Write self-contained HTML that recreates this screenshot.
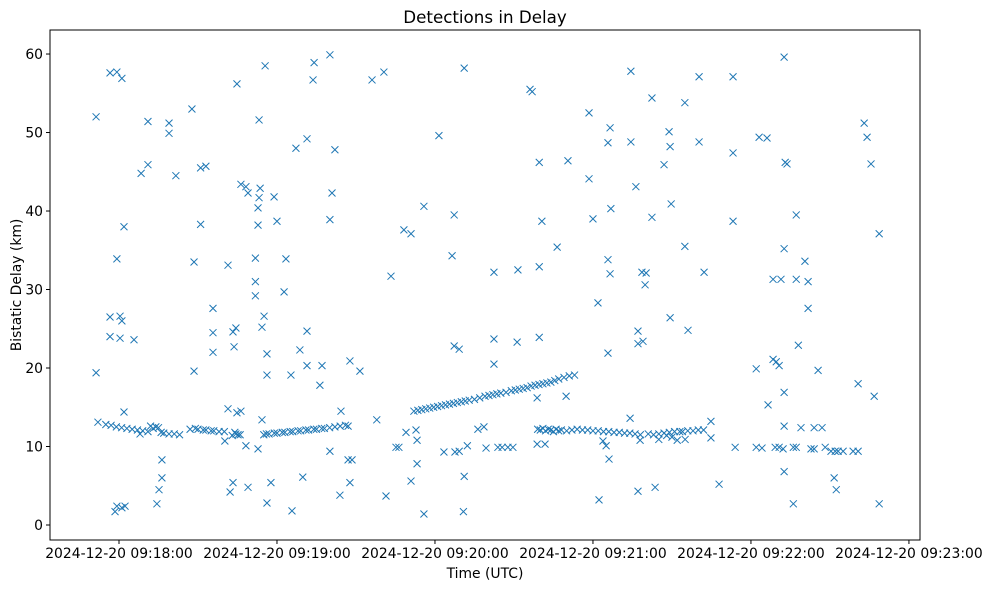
<!DOCTYPE html>
<html><head><meta charset="utf-8"><style>
html,body{margin:0;padding:0;background:#fff;}
svg{display:block;font-family:"DejaVu Sans","Liberation Sans",sans-serif;}
</style></head><body>
<svg id="chart" width="988" height="590" viewBox="0 0 988 590" xmlns="http://www.w3.org/2000/svg">
<text x="485" y="23" text-anchor="middle" font-size="16.7" fill="#000">Detections in Delay</text>
<rect x="50" y="30" width="870" height="510" fill="none" stroke="#000" stroke-width="1"/>
<g id="marks"></g>
<g id="axes"></g>
<text x="485" y="578" text-anchor="middle" font-size="13.9" fill="#000">Time (UTC)</text>
<text transform="translate(21,285) rotate(-90)" text-anchor="middle" font-size="13.9" fill="#000">Bistatic Delay (km)</text>
</svg>
<script>
// times: seconds relative to 2024-12-20 09:18:00 ; delays: km
const times = [-8.7,-8.7,-8,-3.4,-0.8,1.1,-0.8,-3.4,-3.4,0.4,1.1,0.4,1.9,5.7,1.9,-1.5,-0.8,1.1,2.3,11,8.4,11,19,19,21.6,27.7,28.5,31,33,31,28.5,35.7,35.7,35.7,41.4,44.8,46.3,48.2,49,44.4,43.3,43.7,46.3,41.4,44.8,53.6,53.2,52.8,52.8,53.2,55.5,51.8,51.8,51.8,55.1,54.3,56.2,56.2,54.3,52.8,56.2,57.7,49,43.3,42.2,48.2,40.2,44.4,45.2,16.3,16.3,15.2,14.4,58.9,60,63.4,62.7,67.2,71.4,74.1,73.7,80.1,82,80.9,80.1,68.7,71.4,71.4,65.3,77.1,76.3,69.8,65.7,80.1,84.3,83.9,87.7,87,88.5,87.7,91.5,96.1,100.6,103.3,97.9,101.4,105.2,106.3,108.2,110.9,109,110.9,113.2,112.8,113.2,115.8,115.8,121.5,123.4,126.5,127.3,127.3,129.2,127.6,129.2,131.1,131.1,130.8,132.3,136.3,138.6,142.4,142.4,142.4,139.4,143.9,145.5,147.7,149.6,151.2,151.5,156.1,156.9,159.6,160.6,159.6,159.6,158.8,158.8,161.8,166.4,170.5,169.8,178.5,178.5,180,181.9,182.3,183.8,185,185.7,186.1,185.7,186.5,185.7,186.5,186.8,194.4,194.4,194.1,196.3,197.1,197.1,198.6,200.2,199.8,199,197.9,197.1,202.4,202.4,203.6,207,208.9,209.3,209.7,209.3,214.9,214.9,216.1,220.3,220.3,222.2,224.8,224.8,227.9,233.2,233.2,233.2,234,242,242,243.1,246.1,244.2,246.5,248.4,251.4,248.4,249.6,250.7,249.2,250.7,252.6,253,253.7,252.6,252.6,252.6,252.6,252.2,256.1,257.2,257.2,258,259,257.2,256.1,260.5,261.7,261.7,264,267,265.5,262.8,264,268.2,270.4,272,273.1,275,278.8,280.7,271.6,272.4,280.7,283,284.1,285.6,286.8,288.7,288.7,
-5,-3,-1,1,3,5,7,9,11,13,14,15,16,17,19,21,23,8,12,
27,29,30,32,33,35,36,38,40,46,44,43,
55,56,57,59,60,62,63,65,66,68,69,71,72,74,75,77,78,80,82,84,86,87,
112,113.5,115,116.5,118,119.5,121,122.5,124,125.5,127,128.5,130,131.5,133,135,137,139,140.5,142,143.5,145,147,149,150.5,152,153.5,155,156.5,158,159.5,161,162.5,164,165.5,167,169,171,173,
159,160,161,162,163,164,165,166,167,168,170,172,174,176,178,180,182,184,186,188,190,192,194,196,198,
201,203,205,207,208,209,210,211,212,213,214,215,216,218,220,222,205];
const delays = [52.0,19.4,13.1,57.6,57.7,56.9,33.9,26.5,24.0,26.6,26.0,23.8,38.0,23.6,14.4,1.7,2.4,2.2,2.4,51.4,44.8,45.9,51.2,49.9,44.5,53.0,33.5,45.5,45.7,38.3,19.6,27.6,24.5,22.0,33.1,56.2,43.4,43.1,42.3,25.1,24.6,22.7,14.5,14.8,14.3,42.9,41.7,40.4,38.2,51.6,58.5,34.0,31.0,29.2,26.6,25.2,21.8,19.1,13.4,9.7,2.8,5.4,4.8,5.4,4.2,10.1,10.7,11.6,11.5,8.3,6.0,4.5,2.7,41.8,38.7,33.9,29.7,48.0,49.2,58.9,56.7,59.9,47.8,42.3,38.9,22.3,24.7,20.3,19.1,20.3,17.8,6.1,1.8,9.4,14.5,3.8,5.4,8.3,8.3,20.9,19.6,56.7,57.7,31.7,13.4,3.7,9.9,9.9,37.6,37.1,11.8,5.6,7.8,12.1,10.8,40.6,1.4,49.6,9.3,34.3,39.5,22.8,22.4,9.3,9.4,58.2,6.2,1.7,10.1,12.2,12.5,32.2,23.7,20.5,9.8,9.9,9.9,9.9,9.9,23.3,32.5,55.5,55.2,46.2,38.7,32.9,23.9,16.2,10.3,10.3,35.4,46.4,16.4,52.5,44.1,39.0,28.3,3.2,10.7,10.1,21.9,8.4,48.7,50.6,33.8,32.0,40.3,57.8,48.8,13.6,43.1,24.7,23.1,32.2,32.1,30.6,23.4,10.8,4.3,54.4,39.2,4.8,45.9,50.1,48.2,40.9,26.4,53.8,35.5,24.8,57.1,48.8,32.2,13.2,11.1,5.2,57.1,47.4,38.7,9.9,19.9,9.9,49.4,49.3,9.8,15.3,31.3,31.3,21.1,20.8,20.3,9.9,9.9,59.6,46.2,46.0,35.2,16.9,12.6,6.8,9.7,2.7,39.5,31.3,22.9,12.4,9.9,9.9,33.6,31.0,27.6,12.4,12.4,19.7,9.7,9.7,9.9,9.4,9.4,9.4,9.4,9.4,9.4,6.0,4.5,18.0,51.2,49.4,46.0,16.4,37.1,2.7,
12.8,12.7,12.5,12.4,12.3,12.2,12.1,12.0,11.9,12.3,12.5,12.4,11.8,11.7,11.6,11.6,11.5,11.6,12.6,
12.2,12.3,12.2,12.1,12.1,12.0,12.0,11.9,11.9,11.5,11.8,11.4,
11.5,11.6,11.6,11.7,11.7,11.8,11.8,11.9,11.9,12.0,12.0,12.1,12.1,12.2,12.2,12.3,12.3,12.4,12.5,12.6,12.7,12.6,
14.5,14.6,14.7,14.8,14.9,15.0,15.1,15.2,15.3,15.4,15.5,15.6,15.7,15.8,15.9,16.0,16.2,16.4,16.5,16.6,16.7,16.8,16.9,17.1,17.2,17.3,17.4,17.5,17.7,17.8,17.9,18.0,18.1,18.2,18.4,18.6,18.8,19.0,19.1,
12.2,12.1,12.3,12.0,12.2,12.1,11.9,12.2,12.0,12.1,12.0,12.1,12.2,12.1,12.1,12.0,12.0,11.9,11.9,11.8,11.8,11.7,11.7,11.6,11.5,
11.6,11.5,11.6,11.7,11.4,11.8,11.2,11.9,10.8,11.9,11.9,10.9,12.0,12.0,12.1,12.1,10.9];
const yTicks = [0,10,20,30,40,50,60];
const xTicks = [0,60,120,180,240,300];
const xTickLabels = ["2024-12-20 09:18:00","2024-12-20 09:19:00","2024-12-20 09:20:00","2024-12-20 09:21:00","2024-12-20 09:22:00","2024-12-20 09:23:00"];

const NS="http://www.w3.org/2000/svg";
const L=50,R=920,T=30,B=540;
const xMin=-26.2,xMax=304.2,yMin=-1.91,yMax=63.06;
function xs(t){return L+(t-xMin)/(xMax-xMin)*(R-L);}
function ys(d){return B-(d-yMin)/(yMax-yMin)*(B-T);}
const marks=document.getElementById('marks');
const axes=document.getElementById('axes');
for(let i=0;i<times.length;i++){
  const x=xs(times[i]),y=ys(delays[i]),s=3.5;
  const p=document.createElementNS(NS,'path');
  p.setAttribute('d',`M${x-s},${y-s}L${x+s},${y+s}M${x-s},${y+s}L${x+s},${y-s}`);
  p.setAttribute('stroke','#1f77b4');p.setAttribute('stroke-width','1');p.setAttribute('fill','none');
  
  
  marks.appendChild(p);
}
yTicks.forEach(v=>{
  const y=ys(v);
  const l=document.createElementNS(NS,'line');
  l.setAttribute('x1',L-4);l.setAttribute('x2',L);l.setAttribute('y1',y);l.setAttribute('y2',y);l.setAttribute('stroke','#000');
  
  
  axes.appendChild(l);
  const t=document.createElementNS(NS,'text');
  t.setAttribute('x',L-7);t.setAttribute('y',y+5);t.setAttribute('text-anchor','end');t.setAttribute('font-size','13.9');
  t.textContent=v;
  
  
  axes.appendChild(t);
});
xTicks.forEach((v,i)=>{
  const x=xs(v);
  const l=document.createElementNS(NS,'line');
  l.setAttribute('x1',x);l.setAttribute('x2',x);l.setAttribute('y1',B);l.setAttribute('y2',B+4);l.setAttribute('stroke','#000');
  
  
  axes.appendChild(l);
  const t=document.createElementNS(NS,'text');
  t.setAttribute('x',x);t.setAttribute('y',B+18);t.setAttribute('text-anchor','middle');t.setAttribute('font-size','13.9');
  t.textContent=xTickLabels[i];
  
  
  axes.appendChild(t);
});
</script>
</body></html>
